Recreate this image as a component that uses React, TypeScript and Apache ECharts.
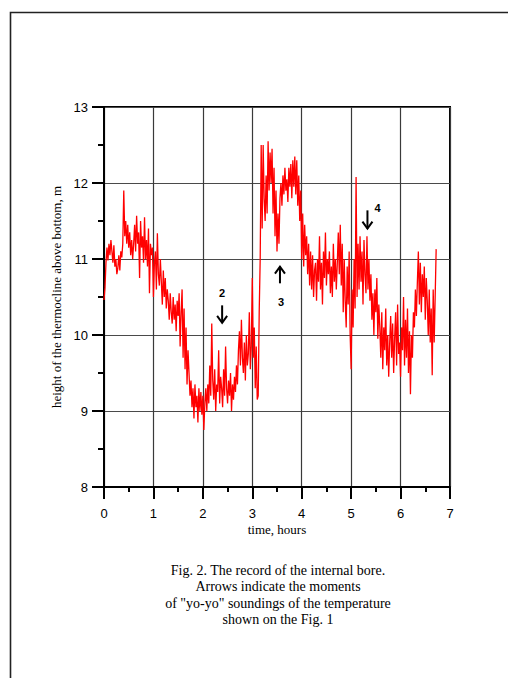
import React, { useEffect, useRef } from "react";
import * as echarts from "echarts";

// time step of the record, hours
const TIME_STEP = 0.02;

// height of the thermocline above bottom, m (one value per 0.02 h)
const HEIGHT: number[] = [
  10.46, 10.62, 10.95, 11.15, 10.98, 11.2, 11.05, 11.25, 11.1, 10.95,
  11.18, 10.9, 11.0, 10.8, 10.88, 11.05, 10.85, 11.1, 11.02, 11.2,
  11.9, 11.3, 11.5, 11.2, 11.45, 11.15, 11.35, 11.05, 11.25, 11.0,
  11.2, 11.45, 11.1, 11.57, 11.2, 11.35, 10.75, 11.5, 11.15, 11.3,
  10.95, 11.55, 11.0, 11.25, 10.9, 11.4, 10.55, 11.2, 11.05, 11.15,
  10.5, 10.95, 11.1, 10.6, 11.34, 10.8, 10.65, 11.0, 10.7, 10.4,
  10.85, 10.5, 10.75, 10.35, 10.6, 10.45, 10.2, 10.55, 10.3, 10.15,
  10.5, 10.2, 10.4, 10.05, 10.45, 10.25, 10.55, 9.85, 10.3, 10.6,
  9.7, 10.35, 9.55, 10.1, 9.35, 9.8, 9.5, 9.2, 9.4, 9.05,
  9.3, 8.9, 9.35, 9.05, 9.2, 8.85, 9.3, 9.0, 9.25, 8.95,
  9.2, 8.75, 9.1, 9.3, 9.0, 9.35, 9.1, 9.6, 9.2, 10.15,
  9.4, 9.15, 9.55, 9.0, 9.35, 9.25, 9.8, 9.1, 9.45, 9.3,
  9.05, 9.55, 9.2, 9.85, 9.3, 9.1, 9.4, 9.2, 9.5, 9.0,
  9.35, 9.15, 9.45, 9.25, 9.6, 9.35, 9.8, 10.05, 9.6, 10.2,
  9.7, 9.5, 9.9, 9.4, 10.0, 9.6, 9.75, 10.3, 9.55, 9.85,
  10.75, 9.7, 10.1, 9.3, 9.85, 9.15, 9.2, 10.3, 11.0, 12.5,
  11.4, 12.5, 11.8, 11.5, 12.1, 11.6, 12.55, 11.9, 12.4, 12.0,
  12.45, 11.6, 12.2, 11.3, 11.9, 11.1, 11.6, 11.2, 11.8, 12.0,
  11.7, 12.1, 11.85, 12.2, 11.9, 12.05, 11.75, 12.2, 11.95, 12.25,
  11.8, 12.3, 11.95, 12.35, 11.85, 12.3, 11.7, 12.1, 11.5, 11.9,
  11.0, 11.6, 10.9, 11.45, 11.05, 11.3, 10.8, 11.2, 10.65, 11.1,
  10.6, 11.05, 10.5, 10.85, 10.95, 10.45, 11.0, 10.7, 11.3, 10.6,
  10.95, 10.4, 11.1, 10.75, 11.35, 10.65, 11.0, 10.8, 11.1, 10.55,
  10.9, 10.5, 11.2, 10.7, 11.0, 10.6, 10.95, 11.35, 10.8, 11.45,
  10.65, 11.2, 10.3, 11.0, 10.45, 10.1, 10.9, 10.4, 11.1, 10.0,
  9.55, 10.6, 10.1, 11.0, 10.35, 12.08, 10.5, 11.2, 10.6, 11.3,
  10.7, 11.1, 10.4, 11.25, 10.8, 10.55, 11.3, 10.6, 11.0, 10.45,
  10.8, 10.2, 10.55, 10.0, 10.6, 10.3, 10.75, 9.95, 10.4, 10.1,
  9.7, 10.3, 9.55, 10.1, 9.8, 10.35, 9.6, 10.0, 9.45, 9.9,
  10.25, 9.7, 10.15, 9.5, 9.95, 10.3, 9.6, 10.4, 9.75, 9.9,
  9.45, 10.1, 9.8, 10.5, 9.6, 10.2, 9.7, 10.35, 9.5, 10.05,
  9.22, 10.0, 9.7, 10.3, 10.1, 10.6, 10.25, 10.7, 11.1, 10.4,
  10.95, 10.3, 10.8, 10.5, 10.9, 10.2, 10.75, 10.45, 10.0, 10.6,
  9.9, 10.35, 9.47, 10.6, 9.9, 10.5, 11.13,
];

// axis ticks
const X_MIN = 0, X_MAX = 7, X_STEP = 1, X_MINOR_STEP = 0.5;
const Y_MIN = 8, Y_MAX = 13, Y_STEP = 1, Y_MINOR_STEP = 0.5;

// arrows marking the "yo-yo" soundings
const ARROW_LABELS = ["2", "3", "4"];
const ARROW_TIMES = [2.39, 3.56, 5.33];
const ARROW_TIP = [10.16, 10.9, 11.4];
const ARROW_TAIL = [10.39, 10.68, 11.64];
const ARROW_LABEL_DX = [0, 1, 10];
const ARROW_LABEL_DY = [-12, 19, -2];

const CAPTION = [
  "Fig. 2. The record of the internal bore.",
  "Arrows indicate the moments",
  'of "yo-yo" soundings of the temperature',
  "shown on the Fig. 1",
];

const SERIF = "'Liberation Serif', 'Times New Roman', serif";
const SANS = "'Liberation Sans', Arial, sans-serif";

export default function App() {
  const ref = useRef<HTMLDivElement>(null);
  useEffect(() => {
    if (!ref.current) return;
    const chart = echarts.init(ref.current, null, { renderer: "svg" });
    const data = HEIGHT.map((v, i) => [+(i * TIME_STEP).toFixed(2), v]);
    const tickStyle = { color: "#000", width: 2 };
    const option: any = {
      animation: false,
      backgroundColor: "#fff",
      grid: {
        left: 104,
        top: 107,
        width: 346,
        height: 380,
        show: true,
        borderColor: "#000",
        borderWidth: 2,
        backgroundColor: "transparent",
      },
      xAxis: [
        {
          type: "value",
          min: X_MIN,
          max: X_MAX,
          interval: X_STEP,
          axisLine: { show: true, lineStyle: { color: "#000", width: 2 } },
          axisTick: { show: true, inside: false, length: 12, lineStyle: tickStyle },
          splitLine: { show: true, lineStyle: { color: "#3a3a3a", width: 1.2 } },
          axisLabel: { color: "#000", fontFamily: SANS, fontSize: 13, margin: 20 },
        },
        {
          type: "value",
          position: "bottom",
          min: X_MIN,
          max: X_MAX,
          interval: X_MINOR_STEP,
          axisLine: { show: false },
          axisTick: { show: true, inside: false, length: 5, lineStyle: tickStyle },
          splitLine: { show: false },
          axisLabel: { show: false },
        },
      ],
      yAxis: [
        {
          type: "value",
          min: Y_MIN,
          max: Y_MAX,
          interval: Y_STEP,
          axisLine: { show: true, lineStyle: { color: "#000", width: 2 } },
          axisTick: { show: true, inside: false, length: 12, lineStyle: tickStyle },
          splitLine: { show: true, lineStyle: { color: "#4a4a4a", width: 1.2 } },
          axisLabel: { color: "#000", fontFamily: SANS, fontSize: 13, margin: 16 },
        },
        {
          type: "value",
          position: "left",
          min: Y_MIN,
          max: Y_MAX,
          interval: Y_MINOR_STEP,
          axisLine: { show: false },
          axisTick: { show: true, inside: false, length: 6, lineStyle: tickStyle },
          splitLine: { show: false },
          axisLabel: { show: false },
        },
      ],
      series: [
        {
          type: "line",
          data,
          showSymbol: false,
          symbol: "none",
          lineStyle: { color: "#ff0000", width: 1.3 },
          z: 3,
        },
      ],
    };
    chart.setOption(option);

    const graphics: any[] = [
      {
        type: "rect",
        shape: { x: 10.5, y: 12.5, width: 620, height: 720 },
        style: { fill: "none", stroke: "#222", lineWidth: 1.6 },
        silent: true,
      },
      {
        type: "text",
        x: 277,
        y: 529,
        style: { text: "time, hours", font: `13px ${SERIF}`, fill: "#000", align: "center", verticalAlign: "middle" },
      },
      {
        type: "text",
        x: 56,
        y: 297,
        rotation: Math.PI / 2,
        style: {
          text: "height of the thermocline above bottom, m",
          font: `13px ${SERIF}`,
          fill: "#000",
          align: "center",
          verticalAlign: "middle",
        },
      },
    ];
    CAPTION.forEach((line, i) => {
      graphics.push({
        type: "text",
        x: 278,
        y: 570 + i * 16.6,
        style: { text: line, font: `14px ${SERIF}`, fill: "#000", align: "center", verticalAlign: "middle" },
      });
    });
    ARROW_LABELS.forEach((lab, i) => {
      const tip = chart.convertToPixel({ gridIndex: 0 }, [ARROW_TIMES[i], ARROW_TIP[i]]) as number[];
      const tail = chart.convertToPixel({ gridIndex: 0 }, [ARROW_TIMES[i], ARROW_TAIL[i]]) as number[];
      const dir = tip[1] > tail[1] ? 1 : -1;
      graphics.push({
        type: "line",
        shape: { x1: tail[0], y1: tail[1], x2: tip[0], y2: tip[1] },
        style: { stroke: "#000", lineWidth: 2 },
        z: 10,
      });
      graphics.push({
        type: "polyline",
        shape: {
          points: [
            [tip[0] - 5, tip[1] - dir * 7],
            [tip[0], tip[1]],
            [tip[0] + 5, tip[1] - dir * 7],
          ],
        },
        style: { stroke: "#000", lineWidth: 2, fill: "none" },
        z: 10,
      });
      graphics.push({
        type: "text",
        x: tail[0] + ARROW_LABEL_DX[i],
        y: tail[1] + ARROW_LABEL_DY[i],
        style: { text: lab, font: `bold 11px ${SANS}`, fill: "#000", align: "center", verticalAlign: "middle" },
        z: 10,
      });
    });
    chart.setOption({ graphic: graphics });
    return () => chart.dispose();
  }, []);
  return (
    <div
      ref={ref}
      style={{ position: "fixed", left: 0, top: 0, width: 508, height: 678 }}
    />
  );
}
